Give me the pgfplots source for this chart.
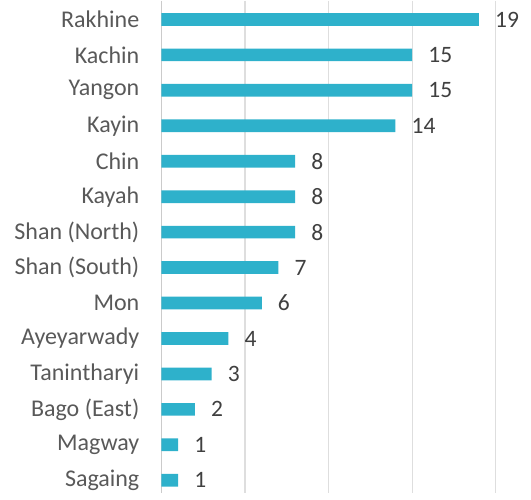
\documentclass[border=0pt]{standalone}
\usepackage{pgfplots}
\pgfplotsset{compat=1.18}
\usepackage{fontspec}
\setmainfont{Carlito}
\definecolor{barc}{RGB}{46,177,203}
\definecolor{lblc}{RGB}{89,89,89}
\definecolor{valc}{RGB}{64,64,64}
\definecolor{gridc}{RGB}{222,222,222}
\begin{document}
\begin{tikzpicture}[x=1pt,y=1pt]
\begin{axis}[
  at={(0,0)}, anchor=south west,
  scale only axis,
  width=334.2pt, height=492pt,
  xbar, bar width=12.7pt,
  xmin=0, xmax=20,
  ymin=-0.53, ymax=13.35,
  y dir=reverse,
  /pgf/number format/assume math mode=true,
  axis line style={draw=none},
  xtick={5,10,15,20}, xticklabels={},
  extra x ticks={0}, extra x tick labels={},
  extra x tick style={grid style={color=gridc!80!gray, line width=1.3pt}},
  xmajorgrids, grid style={color=gridc, line width=1.2pt},
  major tick length=0pt,
  ytick={0,...,13},
  yticklabels={Rakhine,Kachin,Yangon,Kayin,Chin,Kayah,Shan (North),Shan (South),Mon,Ayeyarwady,Tanintharyi,Bago (East),Magway,Sagaing},
  yticklabel style={font=\fontsize{24}{28}\selectfont, text=lblc, inner sep=0pt, xshift=-22pt},
  nodes near coords,
  nodes near coords style={font=\fontsize{23.5}{28}\selectfont, text=valc, inner sep=0pt, anchor=west, xshift=16pt},
  clip=false,
]
\addplot[fill=barc, draw=none] coordinates {
 (19,0) (15,1) (15,2) (14,3) (8,4) (8,5) (8,6) (7,7) (6,8) (4,9) (3,10) (2,11) (1,12) (1,13)
};
\end{axis}
\path[use as bounding box] (-161.5,0) rectangle (369.5,492);
\end{tikzpicture}
\end{document}
